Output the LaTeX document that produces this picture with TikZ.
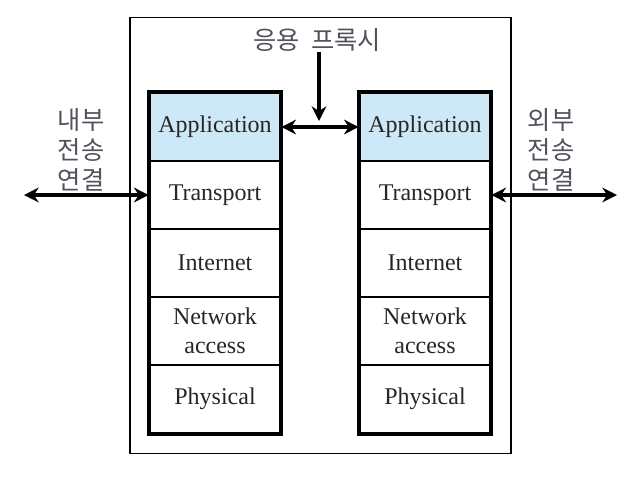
\documentclass[tikz,border=0pt]{standalone}
\usepackage{fontspec}
\setmainfont{Liberation Serif}
\newfontfamily\kr{Noto Sans CJK KR}
\usetikzlibrary{arrows.meta}
\definecolor{appblue}{RGB}{205,232,246}
\definecolor{krgray}{RGB}{80,82,92}
\begin{document}
\begin{tikzpicture}[x=0.75pt,y=-0.75pt,
  layer/.style={draw, line width=2pt, minimum width=97.5pt, minimum height=51pt,
    font=\fontsize{18}{20}\selectfont, align=center, inner sep=0pt, text=black!85},
  applayer/.style={layer, fill=appblue},
  stackframe/.style={line width=3.2pt},
  krlabel/.style={font=\kr\fontsize{19}{22.5}\selectfont, text=krgray, align=center, inner sep=0pt},
  arr/.style={line width=2.4pt, {Stealth[length=11pt,width=11pt]}-{Stealth[length=11pt,width=11pt]}},
  arrone/.style={line width=2.4pt, -{Stealth[length=11pt,width=11pt]}}]
\useasboundingbox (0,0) rectangle (642,480);
\node (outer) [draw, line width=1.1pt, minimum width=285.75pt, minimum height=327pt, inner sep=0pt] at (320.5,235.5) {};
% left stack
\node (L1) [applayer] at (215,127) {Application};
\node (L2) [layer] at (215,195) {Transport};
\node (L3) [layer] at (215,263) {Internet};
\node (L4) [layer, font=\fontsize{18}{22}\selectfont] at (215,331) {Network\\access};
\node (L5) [layer] at (215,399) {Physical};
\draw[stackframe] (L1.north west) rectangle (L5.south east);
% right stack
\node (R1) [applayer] at (425,127) {Application};
\node (R2) [layer] at (425,195) {Transport};
\node (R3) [layer] at (425,263) {Internet};
\node (R4) [layer, font=\fontsize{18}{22}\selectfont] at (425,331) {Network\\access};
\node (R5) [layer] at (425,399) {Physical};
\draw[stackframe] (R1.north west) rectangle (R5.south east);
% labels
\node (proxy) [krlabel] at (317,40) {응용\hspace{0.45em}프록시};
\node (inl) [krlabel] at (81,150) {내부\\전송\\연결};
\node (outl) [krlabel] at (551,150) {외부\\전송\\연결};
% connectors
\draw[arr] (L1.east) -- (R1.west);
\coordinate (midtop) at (319,121);
\draw[arrone] (proxy.south) ++(0,0) coordinate (ps) (ps -| midtop) -- (midtop);
\coordinate (lend) at (24,195);
\coordinate (rend) at (617,195);
\draw[arr] (lend) -- (L2.west);
\draw[arr] (R2.east) -- (rend);
\end{tikzpicture}
\end{document}
